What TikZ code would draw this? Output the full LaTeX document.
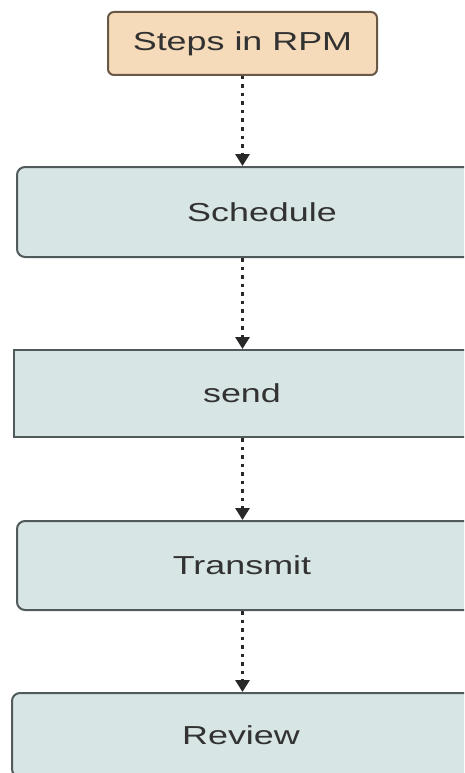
\documentclass[tikz,border=0pt]{standalone}
\usepackage{fontspec}
\usepackage{graphicx}
\setmainfont{Liberation Sans}
\usetikzlibrary{arrows.meta}
\definecolor{headfill}{RGB}{245,219,186}
\definecolor{headline}{RGB}{105,88,70}
\definecolor{stepfill}{RGB}{216,229,229}
\definecolor{stepline}{RGB}{80,90,90}
\definecolor{txt}{RGB}{50,50,50}
\definecolor{flowcol}{RGB}{40,40,40}
\newcommand{\widetext}[1]{\scalebox{1.38}[1]{#1}}
\tikzset{
  x=1pt, y=-1pt,
  boxbase/.style={inner sep=0pt, line width=2pt, text=txt,
    font=\fontsize{26}{30}\selectfont},
  headbox/.style={boxbase, draw=headline, fill=headfill, rounded corners=6pt},
  stepbox/.style={boxbase, draw=stepline, fill=stepfill, rounded corners=8pt},
  flatbox/.style={boxbase, draw=stepline, fill=stepfill},
  flow/.style={draw=flowcol, line width=3pt, dash pattern=on 3.5pt off 5pt,
    -{Triangle[width=14pt,length=12pt]}}
}
\begin{document}
\begin{tikzpicture}
  \useasboundingbox (0,0) rectangle (464,773);
  \fill[white] (0,0) rectangle (464,773);
  \clip (0,0) rectangle (464,773);
  % header and the four steps (boxes run past the right and bottom edges)
  \node[headbox, minimum width=269pt, minimum height=63pt] (top) at (242.5,43.5) {\widetext{Steps in RPM}};
  \node[stepbox, minimum width=490pt, minimum height=90pt] (sched) at (262,212) {\widetext{Schedule}};
  \node[flatbox, minimum width=470pt, minimum height=87pt] (send) at (249,393.5) {\hspace*{-14pt}\widetext{send}};
  \node[stepbox, minimum width=462pt, minimum height=89pt] (trans) at (248,565.5) {\hspace*{-12pt}\widetext{Transmit}};
  \node[stepbox, minimum width=470pt, minimum height=84pt] (rev) at (247,735) {\hspace*{-12pt}\widetext{Review}};
  % dotted connectors down the spine
  \draw[flow] (top.south) -- (sched.north -| top.south);
  \draw[flow] (sched.south -| top.south) -- (send.north -| top.south);
  \draw[flow] (send.south -| top.south) -- (trans.north -| top.south);
  \draw[flow] (trans.south -| top.south) -- (rev.north -| top.south);
\end{tikzpicture}
\end{document}
